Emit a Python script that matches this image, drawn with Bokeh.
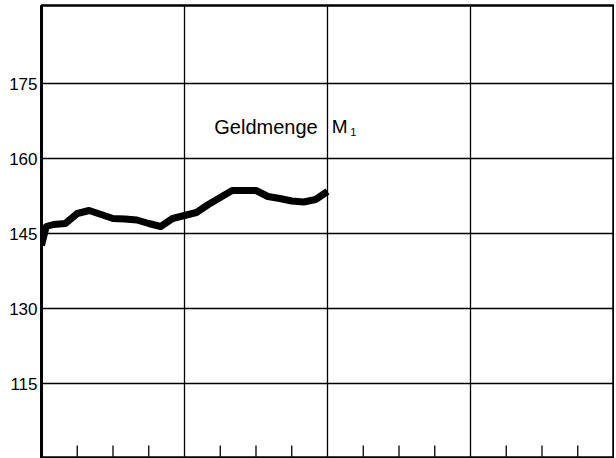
from bokeh.plotting import figure
from bokeh.models import Range1d, FixedTicker, Label
from bokeh.embed import file_html
from bokeh.resources import INLINE

# months since start (4 years shown, monthly data)
months = [0, 0.4, 1, 2, 3, 4, 5, 6, 7, 8, 9, 10, 11, 12, 13, 14, 15, 16, 17, 18, 19, 20, 21, 22, 23, 24]
m1_values = [142.6, 146.4, 146.8, 147.0, 149.0, 149.6, 148.8, 148.0, 147.9, 147.7, 147.0, 146.4, 148.0,
             148.6, 149.2, 150.8, 152.2, 153.6, 153.6, 153.6, 152.4, 152.0, 151.5, 151.3, 151.8, 153.4]
y_ticks = [115, 130, 145, 160, 175]
year_lines = [12, 24, 36]
quarter_ticks = [3, 6, 9, 15, 18, 21, 27, 30, 33, 39, 42, 45]

Y_MIN, Y_MAX = 100.0, 190.6
TICK_LEN = 2.6  # in value units (≈13px)

p = figure(width=614, height=458, output_backend="svg", toolbar_location=None,
           x_range=Range1d(0, 48), y_range=Range1d(Y_MIN, Y_MAX),
           min_border_left=41, min_border_right=1, min_border_top=5, min_border_bottom=0)
p.background_fill_color = "white"
p.border_fill_color = "white"
p.outline_line_color = "black"
p.outline_line_width = 2.5

# y axis
p.yaxis.ticker = FixedTicker(ticks=y_ticks)
p.yaxis.axis_line_width = 3
p.yaxis.axis_line_color = "black"
p.yaxis.major_tick_out = 0
p.yaxis.major_tick_in = 0
p.yaxis.minor_tick_line_color = None
p.yaxis.major_label_text_font = "Liberation Sans"
p.yaxis.major_label_text_font_size = "17px"
p.yaxis.major_label_text_color = "black"
p.yaxis.major_label_standoff = 4

p.xaxis.visible = False

# grids
p.ygrid.ticker = FixedTicker(ticks=y_ticks)
p.ygrid.grid_line_color = "black"
p.ygrid.grid_line_width = 1.3
p.xgrid.ticker = FixedTicker(ticks=year_lines)
p.xgrid.grid_line_color = "black"
p.xgrid.grid_line_width = 1.3

# quarter ticks rising from the bottom edge
p.segment(x0=quarter_ticks, y0=[Y_MIN] * len(quarter_ticks),
          x1=quarter_ticks, y1=[Y_MIN + TICK_LEN] * len(quarter_ticks),
          line_color="black", line_width=1.3)

p.line(months, m1_values, line_color="black", line_width=7, line_join="round")

p.add_layout(Label(x=14.5, y=166.4, text="Geldmenge", text_font="Liberation Sans",
                   text_font_size="20px", text_color="black", text_baseline="alphabetic"))
p.add_layout(Label(x=24.35, y=166.4, text="M", text_font="Liberation Sans",
                   text_font_size="19px", text_color="black", text_baseline="alphabetic"))
p.add_layout(Label(x=25.9, y=165.3, text="1", text_font="Liberation Sans",
                   text_font_size="11px", text_color="black", text_baseline="alphabetic"))

open("out.html", "w").write(file_html(p, INLINE))
